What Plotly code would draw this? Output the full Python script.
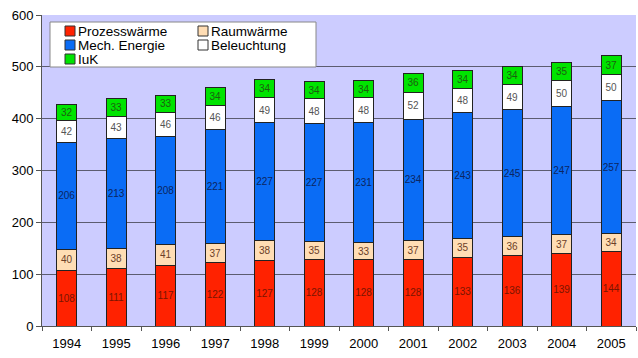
import plotly.graph_objects as go

# Energy use by application, 1994-2005
years = ["1994", "1995", "1996", "1997", "1998", "1999",
         "2000", "2001", "2002", "2003", "2004", "2005"]
prozesswaerme = [108, 111, 117, 122, 127, 128, 128, 128, 133, 136, 139, 144]
raumwaerme = [40, 38, 41, 37, 38, 35, 33, 37, 35, 36, 37, 34]
mech_energie = [206, 213, 208, 221, 227, 227, 231, 234, 243, 245, 247, 257]
beleuchtung = [42, 43, 46, 46, 49, 48, 48, 52, 48, 49, 50, 50]
iuk = [32, 33, 33, 34, 34, 34, 34, 36, 34, 34, 35, 37]

series = [
    ("Prozesswärme", prozesswaerme, "#FF2200", "#7a1500"),
    ("Raumwärme", raumwaerme, "#FFDDB4", "#6b4028"),
    ("Mech. Energie", mech_energie, "#0A6CF5", "#0c2560"),
    ("Beleuchtung", beleuchtung, "#FFFFFF", "#555555"),
    ("IuK", iuk, "#00E400", "#1d5e10"),
]

W, H = 638, 358
ML, MR, MT, MB = 42, 2, 15, 32
PW, PH = W - ML - MR, H - MT - MB
FONT = "Liberation Sans, Arial, sans-serif"

fig = go.Figure()
for name, vals, color, tcolor in series:
    fig.add_trace(go.Bar(
        x=years, y=vals, name=name,
        marker=dict(color=color, line=dict(color="#222222", width=1)),
        width=0.4,
        text=vals, texttemplate="%{text}",
        textposition="inside", insidetextanchor="middle",
        textangle=0, constraintext="none",
        textfont=dict(family=FONT, size=10, color=tcolor),
        showlegend=False,
    ))


def px_x(px):
    return (px - ML) / PW


def px_y(py):
    return (H - MB - py) / PH


# Legend box drawn in two columns
shapes = [dict(type="rect", xref="paper", yref="paper",
               x0=px_x(50), x1=px_x(316), y0=px_y(67), y1=px_y(22),
               fillcolor="white", line=dict(color="#888888", width=1))]
annotations = []
legend_items = [
    ("Prozesswärme", "#FF2200", 65, 31),
    ("Mech. Energie", "#0A6CF5", 65, 45),
    ("IuK", "#00E400", 65, 59),
    ("Raumwärme", "#FFDDB4", 198, 31),
    ("Beleuchtung", "#FFFFFF", 198, 45),
]
for label, color, sx, sy in legend_items:
    shapes.append(dict(type="rect", xref="paper", yref="paper",
                       x0=px_x(sx), x1=px_x(sx + 10),
                       y0=px_y(sy + 5), y1=px_y(sy - 5),
                       fillcolor=color, line=dict(color="#333333", width=1)))
    annotations.append(dict(xref="paper", yref="paper",
                            x=px_x(sx + 12), y=px_y(sy),
                            xanchor="left", yanchor="middle",
                            text=label, showarrow=False, borderpad=0,
                            font=dict(family=FONT, size=13.5, color="black")))

fig.update_layout(
    barmode="stack",
    width=W, height=H,
    margin=dict(l=ML, r=MR, t=MT, b=MB),
    paper_bgcolor="white",
    plot_bgcolor="#CCCCFF",
    font=dict(family=FONT, size=13, color="black"),
    shapes=shapes,
    annotations=annotations,
    xaxis=dict(
        type="category", range=[-0.5, 11.5],
        showline=True, linecolor="#555555", linewidth=1,
        ticks="outside", tickson="boundaries", ticklen=4,
        tickcolor="#555555", showgrid=False,
        ticklabelstandoff=5,
        tickfont=dict(family=FONT, size=13, color="black"),
    ),
    yaxis=dict(
        range=[0, 600], dtick=100,
        showline=True, linecolor="#555555", linewidth=1,
        ticks="outside", ticklen=5, tickcolor="#555555",
        showgrid=True, gridcolor="#5c5c70", gridwidth=1,
        zeroline=False,
        tickfont=dict(family=FONT, size=13, color="black"),
    ),
)

fig.write_html("out.html")
